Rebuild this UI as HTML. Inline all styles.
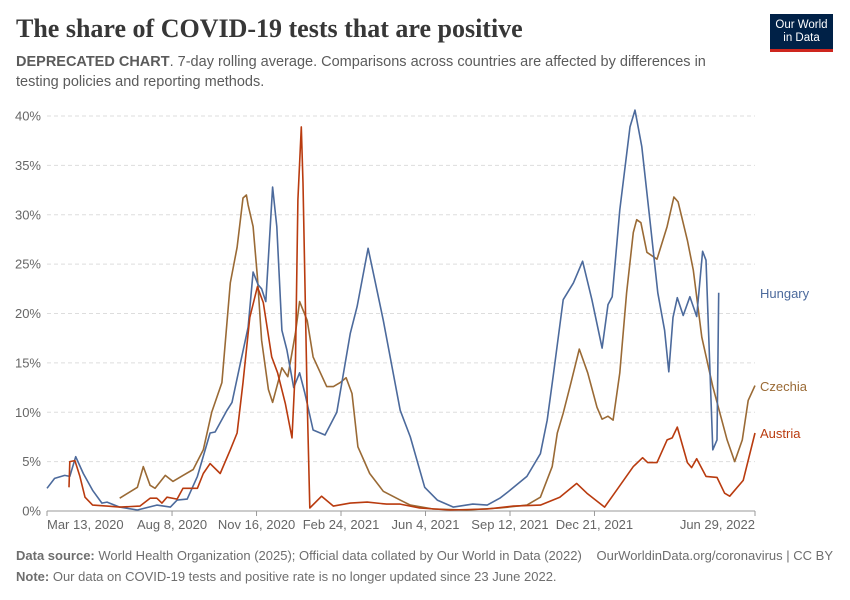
<!DOCTYPE html>
<html><head><meta charset="utf-8"><style>
body{margin:0;background:#fff;font-family:"Liberation Sans",sans-serif;}
#wrap{position:relative;width:850px;height:600px;overflow:hidden}
.t{position:absolute;white-space:nowrap}
</style></head><body>
<div id="wrap">
<div class="t" style="left:16px;top:14px;font-family:'Liberation Serif',serif;font-size:26px;font-weight:bold;color:#373737">The share of COVID-19 tests that are positive</div>
<div class="t" style="left:16px;top:52px;font-size:14.5px;line-height:20px;color:#5b5b5b;white-space:normal;width:720px"><b>DEPRECATED CHART</b>. 7-day rolling average. Comparisons across countries are affected by differences in testing policies and reporting methods.</div>
<div style="position:absolute;left:770px;top:14px;width:63px;height:38px;background:#002147;border-bottom:3px solid #ce261e;box-sizing:border-box;color:#fff;font-size:11.5px;line-height:13px;text-align:center;padding-top:5px">Our World<br>in Data</div>
<svg id="chart" width="850" height="600" style="position:absolute;left:0;top:0"></svg>
<div class="t" style="left:16px;top:548px;font-size:13px;color:#6e6e6e"><b>Data source:</b> World Health Organization (2025); Official data collated by Our World in Data (2022)</div>
<div class="t" style="right:17px;top:548px;font-size:13px;color:#6e6e6e">OurWorldinData.org/coronavirus | CC BY</div>
<div class="t" style="left:16px;top:569px;font-size:13px;color:#6e6e6e"><b>Note:</b> Our data on COVID-19 tests and positive rate is no longer updated since 23 June 2022.</div>
</div>
<script>
// days since Mar 13, 2020
const yTicks=[0,5,10,15,20,25,30,35,40];
const xTickDays=[0,148,248,348,448,548,648,838];
const xTickLabels=["Mar 13, 2020","Aug 8, 2020","Nov 16, 2020","Feb 24, 2021","Jun 4, 2021","Sep 12, 2021","Dec 21, 2021","Jun 29, 2022"];
const hungaryDays=[0,9,21,27,34,43,54,65,71,86,107,130,146,154,166,178,193,199,213,219,228,238,244,250,254,259,267,272,278,284,292,299,305,315,329,343,359,367,380,388,398,418,430,447,462,481,504,521,536,548,568,584,592,599,611,623,634,645,657,664,669,678,690,696,704,714,723,731,736,741,746,753,761,769,776,780,788,793,795];
const hungaryVals=[2.3,3.3,3.6,3.5,5.5,3.8,2.1,0.8,0.9,0.4,0.1,0.6,0.4,1.1,1.2,3.5,7.9,8.0,10.2,11,14.6,18.6,24.2,22.9,22.5,21.2,32.8,28.8,18.3,16.3,12.5,14.0,12.0,8.2,7.7,10.0,18.0,20.7,26.6,23.4,19.3,10.2,7.5,2.4,1.1,0.4,0.7,0.6,1.3,2.1,3.5,5.8,9.2,13.6,21.4,23.1,25.3,21.4,16.5,20.9,21.7,30.5,38.9,40.6,36.9,29.2,22.1,18.3,14.1,19.6,21.6,19.8,21.7,19.7,26.3,25.4,6.2,7.2,22.1];
const czechiaDays=[86,107,114,122,128,140,149,161,173,185,195,207,217,225,232,236,238,244,249,254,262,267,278,285,294,299,308,315,331,339,347,354,361,368,382,398,418,430,457,497,536,568,584,598,604,611,619,630,640,651,657,664,670,678,686,694,698,703,710,722,734,742,747,758,765,775,788,805,814,823,830,838];
const czechiaVals=[1.3,2.4,4.5,2.6,2.3,3.6,3.0,3.6,4.2,6.2,10.0,13.0,23.1,26.7,31.7,32,31.0,28.8,23.7,17.3,12.3,11.0,14.5,13.6,18.0,21.2,19.3,15.6,12.6,12.6,13.0,13.5,11.9,6.5,3.8,2.0,1.1,0.6,0.2,0.1,0.3,0.6,1.4,4.5,7.9,9.9,12.6,16.4,14.0,10.5,9.3,9.6,9.2,14.0,22.1,28.2,29.5,29.2,26.2,25.5,28.8,31.8,31.3,27.4,24.4,17.6,12.6,7.2,5.0,7.2,11.2,12.7];
const austriaDays=[26,27,33,39,45,54,71,86,110,122,130,136,142,154,161,178,185,193,205,217,225,232,240,249,256,266,273,282,290,294,297,301,303,308,311,325,339,359,379,402,418,441,477,521,552,584,607,627,639,660,670,694,705,711,722,734,740,746,758,763,769,780,793,802,808,824,838];
const austriaVals=[2.4,5.0,5.1,3.5,1.4,0.6,0.5,0.4,0.5,1.3,1.3,0.8,1.4,1.2,2.3,2.3,3.8,4.8,3.8,6.2,7.9,13.0,19.6,22.7,21.1,15.6,14.0,10.9,7.4,14.6,31.5,38.9,33.2,11.2,0.3,1.5,0.5,0.8,0.9,0.7,0.7,0.3,0.1,0.2,0.5,0.6,1.4,2.8,1.8,0.4,1.6,4.5,5.4,4.9,4.9,7.2,7.4,8.5,4.9,4.4,5.3,3.5,3.4,1.8,1.5,3.1,7.9];

const svg=document.getElementById('chart');const NS='http://www.w3.org/2000/svg';
const X0=47,X1=755,Y0=511,Y1=116,DMAX=838,VMAX=40;
const xs=d=>X0+(d/DMAX)*(X1-X0);
const ys=v=>Y0-(v/VMAX)*(Y0-Y1);
function mk(tag,attrs){const e=document.createElementNS(NS,tag);for(const k in attrs)e.setAttribute(k,attrs[k]);svg.appendChild(e);return e;}
yTicks.forEach(v=>{
  if(v>0){const g=mk('line',{x1:X0,x2:X1,y1:ys(v),y2:ys(v),stroke:'#ddd','stroke-dasharray':'4,3'});
  
  }
  const t=mk('text',{x:41,y:ys(v)+4.5,'text-anchor':'end','font-size':'13','fill':'#666','font-family':'Liberation Sans,sans-serif'});
  t.textContent=v+'%';
  
  
});
const ax=mk('line',{x1:X0,x2:X1,y1:Y0,y2:Y0,stroke:'#999'});


xTickDays.forEach((d,i)=>{
  const tk=mk('line',{x1:xs(d),x2:xs(d),y1:Y0,y2:Y0+5,stroke:'#999'});
  
  
  const anchor=i==0?'start':(i==xTickDays.length-1?'end':'middle');
  const t=mk('text',{x:xs(d),y:Y0+18,'text-anchor':anchor,'font-size':'13','fill':'#666','font-family':'Liberation Sans,sans-serif'});
  t.textContent=xTickLabels[i];
  
  
});
function series(days,vals,color,name,label,ly){
  const p=mk('path',{d:days.map((d,i)=>(i?'L':'M')+xs(d).toFixed(1)+','+ys(vals[i]).toFixed(1)).join(''),fill:'none',stroke:color,'stroke-width':'1.6','stroke-linejoin':'round'});
  
  
  const t=mk('text',{x:760,y:ly,'font-size':'13','fill':color,'font-family':'Liberation Sans,sans-serif'});
  t.textContent=label;
  
  
}
series(czechiaDays,czechiaVals,'#9a6a35','czechia','Czechia',391);
series(hungaryDays,hungaryVals,'#4c6a9c','hungary','Hungary',298);
series(austriaDays,austriaVals,'#b93b0f','austria','Austria',438);
</script>
</body></html>
